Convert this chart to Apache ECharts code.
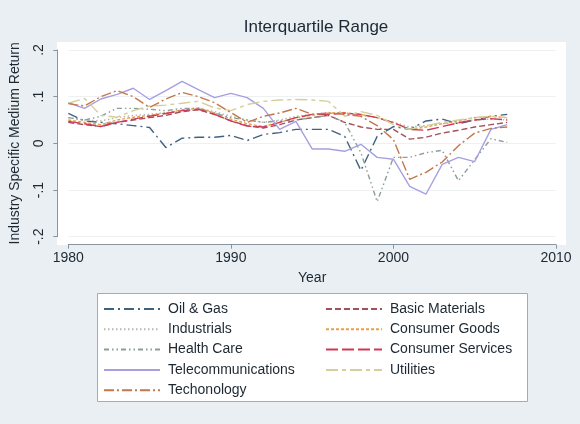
<!DOCTYPE html>
<html>
<head>
<meta charset="utf-8">
<script src="https://cdn.jsdelivr.net/npm/echarts@6/dist/echarts.min.js"></script>
<style>
  html, body { margin: 0; padding: 0; background: #e9eff2; }
  #main { width: 580px; height: 424px; }
</style>
</head>
<body>
<div id="main"></div>
<script>
// years 1980..2007
const years = [1980,1981,1982,1983,1984,1985,1986,1987,1988,1989,1990,1991,1992,1993,
  1994,1995,1996,1997,1998,1999,2000,2001,2002,2003,2004,2005,2006,2007];

const oilGas = [0.064,0.048,0.045,0.042,0.038,0.034,-0.009,0.011,0.013,0.013,0.017,0.006,0.019,0.023,
  0.03,0.03,0.03,0.015,-0.058,0.015,0.036,0.03,0.048,0.052,0.042,0.05,0.058,0.062];
const basicMaterials = [0.045,0.04,0.036,0.045,0.05,0.055,0.06,0.068,0.072,0.062,0.048,0.038,0.033,0.04,
  0.05,0.055,0.06,0.045,0.035,0.03,0.03,0.009,0.013,0.022,0.028,0.035,0.04,0.045];
const industrials = [0.055,0.05,0.048,0.055,0.06,0.062,0.066,0.07,0.075,0.068,0.058,0.05,0.045,0.05,
  0.058,0.062,0.066,0.065,0.06,0.055,0.045,0.035,0.038,0.042,0.046,0.05,0.052,0.05];
const consumerGoods = [0.05,0.045,0.04,0.05,0.056,0.06,0.065,0.072,0.076,0.065,0.052,0.042,0.036,0.045,
  0.055,0.06,0.065,0.065,0.062,0.055,0.045,0.03,0.035,0.042,0.048,0.055,0.058,0.055];
const healthCare = [0.055,0.05,0.058,0.075,0.075,0.073,0.07,0.075,0.075,0.065,0.055,0.05,0.045,0.048,
  0.05,0.055,0.06,0.045,-0.02,-0.125,-0.03,-0.03,-0.02,-0.015,-0.08,-0.035,0.01,0.002];
const consumerServices = [0.047,0.042,0.036,0.045,0.052,0.058,0.064,0.07,0.073,0.062,0.048,0.037,0.035,0.045,
  0.055,0.062,0.062,0.065,0.062,0.055,0.044,0.03,0.028,0.036,0.044,0.05,0.053,0.05];
const telecom = [0.087,0.075,0.095,0.105,0.118,0.094,0.113,0.133,0.115,0.098,0.107,0.098,0.075,0.03,
  0.047,-0.012,-0.012,-0.017,-0.002,-0.03,-0.034,-0.092,-0.109,-0.045,-0.03,-0.039,0.03,0.04];
const utilities = [0.086,0.096,0.06,0.056,0.07,0.08,0.082,0.086,0.09,0.076,0.07,0.083,0.09,0.093,
  0.094,0.093,0.09,0.058,0.068,0.06,0.04,0.03,0.038,0.045,0.05,0.055,0.058,0.055];
const technology = [0.085,0.08,0.1,0.113,0.1,0.077,0.095,0.109,0.1,0.087,0.066,0.045,0.058,0.065,
  0.075,0.062,0.065,0.062,0.058,0.038,0.008,-0.077,-0.062,-0.04,-0.005,0.022,0.032,0.035];

const xTicks = ["1980", "1990", "2000", "2010"];
const yTickLabels = { "-0.2": "-.2", "-0.1": "-.1", "0": "0", "0.1": ".1", "0.2": ".2" };

const names = ["Oil & Gas", "Basic Materials", "Industrials", "Consumer Goods", "Health Care",
  "Consumer Services", "Telecommunications", "Utilities", "Techonology"];
const values = [oilGas, basicMaterials, industrials, consumerGoods, healthCare,
  consumerServices, telecom, utilities, technology];
const colors = ["#41627f", "#a4505a", "#b4b8ae", "#eaa048", "#8d9e98",
  "#cf3a5a", "#a6a0e2", "#d4cf9c", "#c4764c"];
const dashes = [[10,4,2,4], [6,3], [1.5,2.5], [3,2], [5,3,1.5,3,1.5,3],
  [12,4], "solid", [12,4,4,4], [10,3,2,3]];

const font = "Liberation Sans, Arial, sans-serif";
const txt = "#1d2833";

let myChart = echarts.init(document.getElementById("main"));

let series = names.map((n, i) => ({
  name: n,
  type: "line",
  symbol: "none",
  silent: true,
  data: years.map((y, j) => [y, values[i][j]]),
  lineStyle: { color: colors[i], width: 1.4, type: dashes[i] },
  itemStyle: { color: colors[i] }
}));

let legendBase = {
  orient: "vertical",
  top: 302,
  padding: 0,
  itemWidth: 56,
  itemHeight: 14,
  itemGap: 6.3,
  selectedMode: false,
  itemStyle: { opacity: 0 },
  textStyle: { fontFamily: font, fontSize: 14, color: txt, padding: [0, 0, 0, 3] }
};

let option = {
  backgroundColor: "#e9eff2",
  animation: false,
  color: colors,
  title: {
    text: "Interquartile Range",
    left: 311,
    textAlign: "center",
    top: 14,
    textStyle: { fontFamily: font, fontSize: 17, fontWeight: "normal", color: txt }
  },
  graphic: [
    // plot region and legend box
    { type: "rect", shape: { x: 57, y: 42, width: 509, height: 203 }, style: { fill: "#fff" }, z: -10 },
    { type: "rect", shape: { x: 97.5, y: 293.5, width: 430, height: 108 },
      style: { fill: "#fff", stroke: "#a3acb3", lineWidth: 1 }, z: -10 }
  ],
  legend: [
    Object.assign({}, legendBase, {
      data: ["Oil & Gas", "Industrials", "Health Care", "Telecommunications", "Techonology"],
      left: 103
    }),
    Object.assign({}, legendBase, {
      data: ["Basic Materials", "Consumer Goods", "Consumer Services", "Utilities"],
      left: 325
    })
  ],
  grid: { left: 68.3, right: 24, top: 50, bottom: 187.3 },
  xAxis: {
    type: "value",
    min: 1980,
    max: 2010,
    interval: 10,
    offset: 8,
    name: "Year",
    nameLocation: "middle",
    nameGap: 26,
    nameTextStyle: { fontFamily: font, fontSize: 14, color: txt },
    axisLine: { show: true, onZero: false, lineStyle: { color: "#8a949c" } },
    axisTick: { show: true, length: 4, lineStyle: { color: "#8a949c" } },
    axisLabel: {
      margin: 6, fontFamily: font, fontSize: 14, color: txt,
      formatter: v => xTicks.find(t => +t === v) || ""
    },
    splitLine: { show: false }
  },
  yAxis: {
    type: "value",
    min: -0.2,
    max: 0.2,
    interval: 0.1,
    offset: 11,
    name: "Industry Specific Medium Return",
    nameLocation: "middle",
    nameRotate: 90,
    nameGap: 35,
    nameTextStyle: { fontFamily: font, fontSize: 14, color: txt },
    axisLine: { show: true, onZero: false, lineStyle: { color: "#8a949c" } },
    axisTick: { show: true, length: 4, lineStyle: { color: "#8a949c" } },
    axisLabel: {
      rotate: 90, margin: 11, fontFamily: font, fontSize: 14, color: txt,
      formatter: v => yTickLabels[String(Math.round(v * 10) / 10)]
    },
    splitLine: { show: true, lineStyle: { color: "#edf1f3", width: 1 } }
  },
  series: series
};

myChart.setOption(option);
</script>
</body>
</html>
